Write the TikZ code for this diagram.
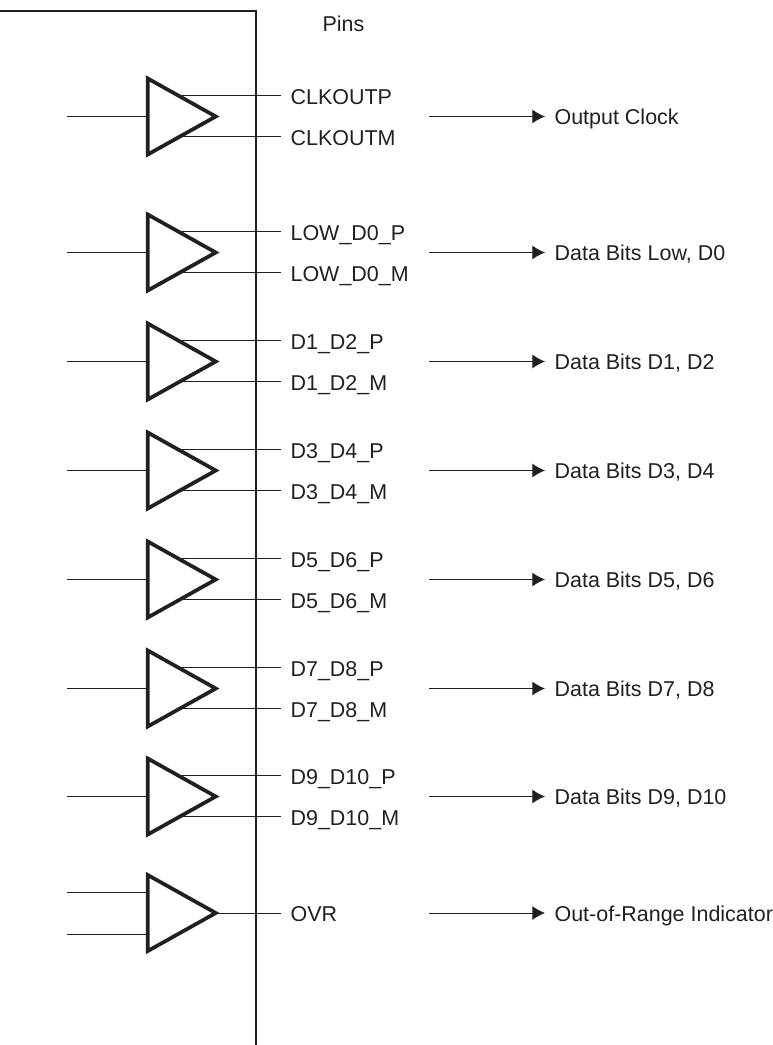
\documentclass[tikz,border=0pt]{standalone}
\usepackage{fontspec}
\setmainfont{Liberation Sans}
\usetikzlibrary{arrows.meta,calc,shapes.geometric}
\definecolor{inkdark}{HTML}{231F20}
\tikzset{
  driver/.style={shape=isosceles triangle,isosceles triangle stretches,draw=inkdark,line width=2.8pt,
    minimum width=57pt,minimum height=51pt,inner sep=0pt,outer sep=0pt,anchor=lower side},
  pin/.style={anchor=west,inner ysep=0pt,inner xsep=7pt,text height=12.5pt,text depth=0pt,font=\fontsize{16.1pt}{18pt}\selectfont,text=inkdark},
  wire/.style={draw=inkdark,line width=0.75pt},
  signal/.style={wire,-{Latex[length=9.5pt,width=10.5pt]}}
}
\begin{document}
\begin{tikzpicture}[x=0.75pt,y=-0.75pt]
    \useasboundingbox (0,0) rectangle (773,1045);
    \coordinate (chipA) at (0,11); \coordinate (chipB) at (256,11); \coordinate (chipC) at (256,1045);
    \foreach \y/\pinP/\pinM/\sig [count=\i] in {
      116.5/CLKOUTP/CLKOUTM/{Output Clock},
      252.5/LOW\_D0\_P/LOW\_D0\_M/{Data Bits Low, D0},
      361.5/D1\_D2\_P/D1\_D2\_M/{Data Bits D1, D2},
      470.5/D3\_D4\_P/D3\_D4\_M/{Data Bits D3, D4},
      579.5/D5\_D6\_P/D5\_D6\_M/{Data Bits D5, D6},
      688.5/D7\_D8\_P/D7\_D8\_M/{Data Bits D7, D8},
      796.5/D9\_D10\_P/D9\_D10\_M/{Data Bits D9, D10}}{
      \node[driver] (drv\i) at (147.75,\y) {};
      \coordinate (in\i) at (67,\y);
      \node[pin] (pinP\i) at (281,\y-20.7) {\pinP};
      \node[pin] (pinM\i) at (281,\y+20.3) {\pinM};
      \coordinate (out\i) at (429,\y);
      \node[pin] (sig\i) at (545,\y) {\sig};
      \coordinate (tapP\i) at ($(drv\i.apex)!.5!(drv\i.left corner)$);
      \coordinate (tapM\i) at ($(drv\i.apex)!.5!(drv\i.right corner)$);
      \draw[wire] (in\i) -- (drv\i.lower side);
      \draw[wire] (pinP\i.west -| tapP\i) -- (pinP\i.west);
      \draw[wire] (pinM\i.west -| tapM\i) -- (pinM\i.west);
      \draw[signal] (out\i) -- (sig\i.west);
    }
    \node[driver] (drvO) at (147.75,913) {};
    \coordinate (inA) at (67,892.5); \coordinate (inB) at (67,934);
    \node[pin] (pinO) at (281,913) {OVR};
    \coordinate (outO) at (429,913);
    \node[pin] (sigO) at (545,913) {Out-of-Range Indicator};
    \draw[wire] (inA) -- (inA -| drvO.lower side);
    \draw[wire] (inB) -- (inB -| drvO.lower side);
    \draw[wire] (drvO.apex) -- (pinO.west);
    \draw[signal] (outO) -- (sigO.west);
    \node[pin] (pins) at (313,23) {Pins};
    \draw[draw=inkdark,line width=1.75pt] (chipA) -- (chipB) -- (chipC);
  \end{tikzpicture}
\end{document}
